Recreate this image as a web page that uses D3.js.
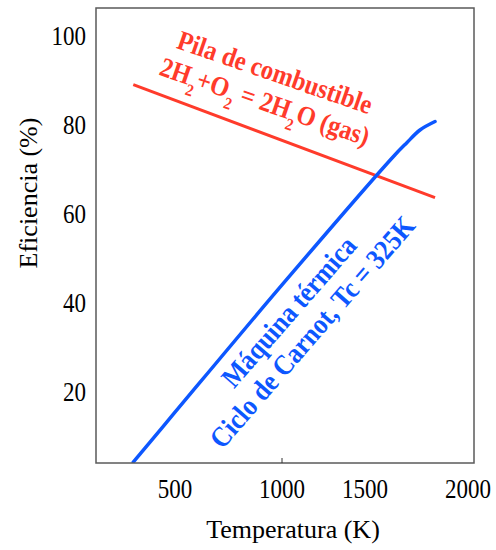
<!DOCTYPE html>
<html>
<head>
<meta charset="utf-8">
<script src="https://cdn.jsdelivr.net/npm/d3@7"></script>
<style>
  body { margin: 0; background: #fff; }
  svg { display: block; font-family: "Liberation Serif", "Times New Roman", serif; }
</style>
</head>
<body>
<div id="chart"></div>
<script>
// temperatures (K) and efficiencies (%)
const fuelCellT = [305, 1840];
const fuelCellEff = [89.0, 63.6];
const carnotT = [305, 500, 1000, 1637, 1702, 1767, 1840];
const carnotEff = [4.2, 15.4, 44.0, 72.8, 75.9, 78.8, 80.7];
const xTicks = [500, 1000, 1500, 2000];
const yTicks = [20, 40, 60, 80, 100];

const width = 496;
const height = 550;
const plot = { left: 96, right: 474, top: 8, bottom: 463 };
const red = "#ff3b2b";
const blue = "#0d57ff";

// the original axis is hand-drawn: tick labels are not evenly spaced
const x = d3
  .scaleLinear()
  .domain(xTicks)
  .range([175, 282, 365, 468]);
const y = d3.scaleLinear().domain([4, 106.2]).range([plot.bottom, plot.top]);

const svg = d3
  .select("#chart")
  .append("svg")
  .attr("width", width)
  .attr("height", height);

svg
  .append("clipPath")
  .attr("id", "clip")
  .append("rect")
  .attr("x", plot.left)
  .attr("y", plot.top)
  .attr("width", plot.right - plot.left)
  .attr("height", plot.bottom - plot.top);

const line = d3
  .line()
  .x((d) => x(d[0]))
  .y((d) => y(d[1]))
  .curve(d3.curveCatmullRom.alpha(0.5));

const g = svg.append("g").attr("clip-path", "url(#clip)");

g.append("path")
  .datum(d3.zip(fuelCellT, fuelCellEff))
  .attr("fill", "none")
  .attr("stroke", red)
  .attr("stroke-width", 3)
  .attr("d", line);

g.append("path")
  .datum(d3.zip(carnotT, carnotEff))
  .attr("fill", "none")
  .attr("stroke", blue)
  .attr("stroke-width", 3.5)
  .attr("stroke-linecap", "round")
  .attr("d", line);

// frame
svg
  .append("rect")
  .attr("x", plot.left)
  .attr("y", plot.top)
  .attr("width", plot.right - plot.left)
  .attr("height", plot.bottom - plot.top)
  .attr("fill", "none")
  .attr("stroke", "#5a5a5a")
  .attr("stroke-width", 1.5);

// only the 1000 K tick mark is drawn in the original
svg
  .append("line")
  .attr("x1", x(1000))
  .attr("x2", x(1000))
  .attr("y1", plot.bottom)
  .attr("y2", plot.bottom - 5)
  .attr("stroke", "#333");

const stretch = 1.17;

svg
  .append("g")
  .selectAll("g")
  .data(xTicks)
  .join("g")
  .attr("transform", (d) => `translate(${x(d)},498) scale(1,${stretch})`)
  .append("text")
  .attr("text-anchor", "middle")
  .attr("font-size", 23)
  .attr("fill", "#000")
  .text((d) => d);

svg
  .append("g")
  .selectAll("g")
  .data(yTicks)
  .join("g")
  .attr("transform", (d) => `translate(86,${y(d)}) scale(1,${stretch})`)
  .append("text")
  .attr("text-anchor", "end")
  .attr("y", 8)
  .attr("font-size", 23)
  .attr("fill", "#000")
  .text((d) => d);

svg
  .append("text")
  .attr("x", 293)
  .attr("y", 538)
  .attr("text-anchor", "middle")
  .attr("font-size", 26)
  .text("Temperatura (K)");

svg
  .append("text")
  .attr("transform", "translate(37,193) rotate(-90)")
  .attr("text-anchor", "middle")
  .attr("font-size", 26)
  .text("Eficiencia (%)");

// annotations (glyphs are a bit taller than wide in the original)
const labelStretch = 1.12;

const fuelLabel = svg
  .append("g")
  .attr("transform", `translate(272,81) rotate(19) scale(1,${labelStretch})`)
  .attr("fill", red)
  .attr("font-weight", "bold")
  .attr("font-size", 24.5)
  .attr("text-anchor", "middle");

fuelLabel.append("text").text("Pila de combustible");

const eq = fuelLabel.append("text").attr("y", 31 / labelStretch);
const parts = [
  ["2H", 0],
  ["2", 1],
  ["+O", 0],
  ["2", 1],
  [" = 2H", 0],
  ["2", 1],
  ["O (gas)", 0],
];
let shifted = false;
parts.forEach(([t, sub]) => {
  const ts = eq.append("tspan").text(t);
  if (sub) {
    ts.attr("font-size", 15).attr("dy", 9);
    shifted = true;
  } else if (shifted) {
    ts.attr("dy", -9);
    shifted = false;
  }
});

const carnotLabel = svg
  .append("g")
  .attr("transform", `translate(296,318) rotate(-49) scale(1,${labelStretch})`)
  .attr("fill", blue)
  .attr("font-weight", "bold")
  .attr("font-size", 25.5)
  .attr("text-anchor", "middle");

carnotLabel.append("text").text("Máquina térmica");
carnotLabel
  .append("text")
  .attr("y", 31 / labelStretch)
  .text("Ciclo de Carnot, Tc = 325K");
</script>
</body>
</html>
